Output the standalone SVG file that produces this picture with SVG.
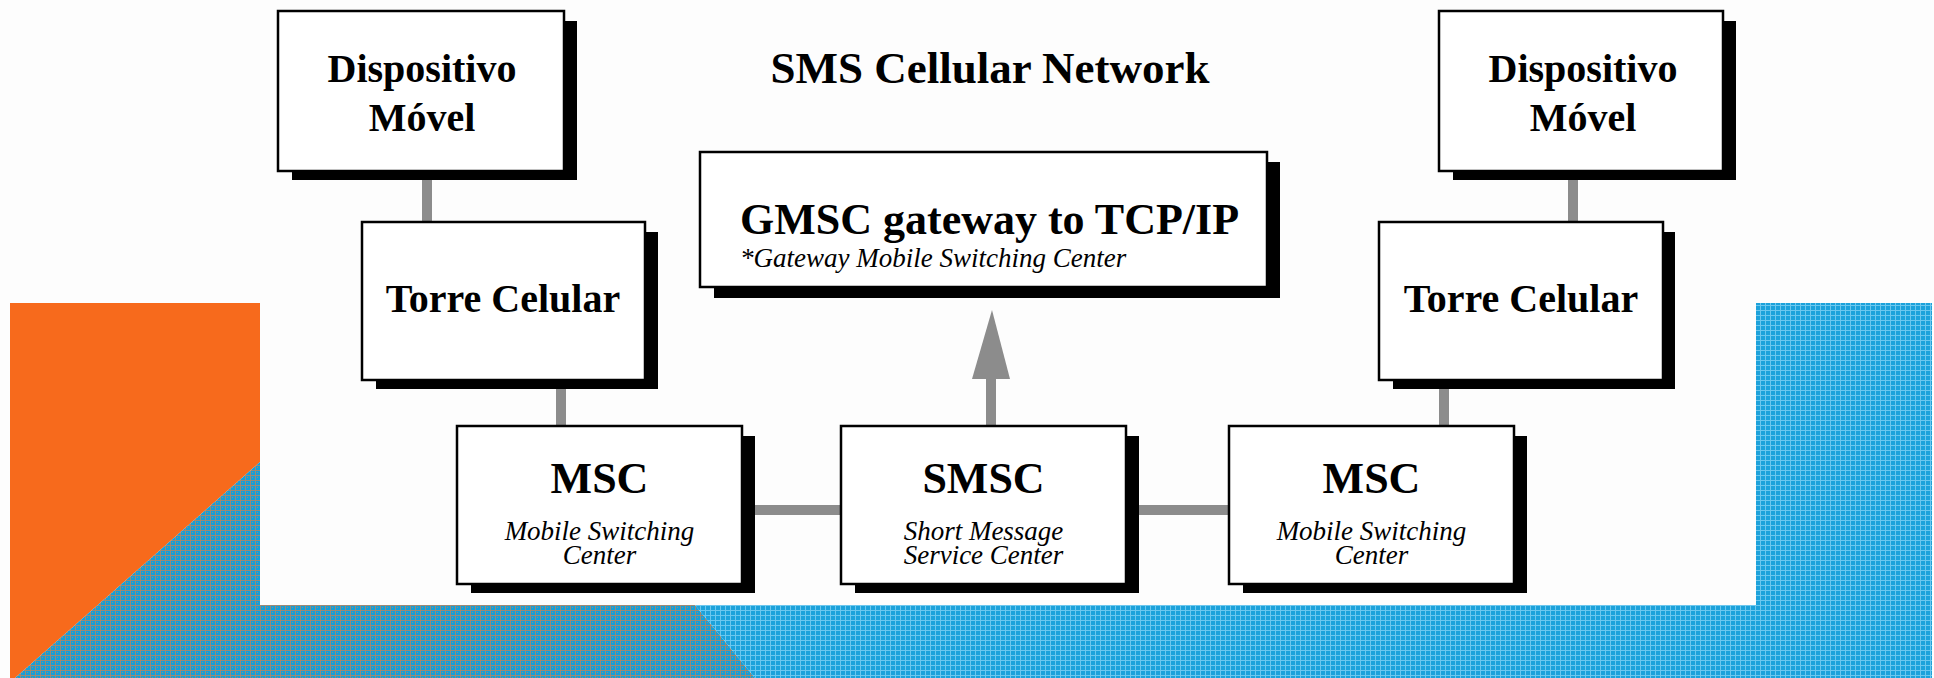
<svg xmlns="http://www.w3.org/2000/svg" width="1934" height="678" viewBox="0 0 1934 678">
  <style>
    .box { fill: #ffffff; stroke: #000000; stroke-width: 2.5; }
    .shadow { fill: #000000; }
    .link { stroke: #8c8c8c; stroke-width: 10; fill: none; }
    .head { fill: #8c8c8c; }
    .title { font-family: "Liberation Serif", "Times New Roman", serif; font-weight: bold; font-size: 44px; fill: #000; text-anchor: middle; }
    .name { font-family: "Liberation Serif", "Times New Roman", serif; font-weight: bold; font-size: 40px; fill: #000; text-anchor: middle; }
    .sub { font-family: "Liberation Serif", "Times New Roman", serif; font-style: italic; font-size: 27px; fill: #000; text-anchor: middle; }
  </style>
  <defs>
    <pattern id="meshLight" width="5" height="5" patternUnits="userSpaceOnUse">
      <rect width="5" height="5" fill="#1ca2db"/>
      <rect x="0" y="0" width="5" height="1" fill="#6cc7ee"/>
      <rect x="0" y="0" width="1" height="5" fill="#6cc7ee"/>
    </pattern>
    <pattern id="meshDark" width="5" height="5" patternUnits="userSpaceOnUse">
      <rect width="5" height="5" fill="#169fd8"/>
      <rect x="0" y="0" width="5" height="1" fill="#9a8a76"/>
      <rect x="0" y="0" width="1" height="5" fill="#9a8a76"/>
      <rect x="2" y="2" width="1" height="1" fill="#9a8a76"/>
    </pattern>
  </defs>

  <!-- page -->
  <rect x="0" y="0" width="1934" height="678" fill="#fdfdfd"/>

  <!-- decorative backdrop -->
  <g id="backdrop">
    <polygon points="10,303 260,303 260,462 15,678 10,678" fill="#f76a1c"/>
    <polygon points="260,462 260,605 695,605 755,678 15,678" fill="url(#meshDark)"/>
    <polygon points="695,605 1756,605 1756,303 1932,303 1932,678 755,678" fill="url(#meshLight)"/>
  </g>

  <!-- diagram panel -->
  <rect x="260" y="0" width="1496" height="605" fill="#fdfdfd"/>

  <text class="title" x="990" y="83" style="font-size:45px">SMS Cellular Network</text>

  <!-- connectors -->
  <g id="connectors">
    <line class="link" x1="427" y1="175" x2="427" y2="224"/>
    <line class="link" x1="561" y1="380" x2="561" y2="428"/>
    <line class="link" x1="742" y1="510" x2="842" y2="510"/>
    <line class="link" x1="1126" y1="510" x2="1230" y2="510"/>
    <line class="link" x1="1444" y1="380" x2="1444" y2="428"/>
    <line class="link" x1="1573" y1="175" x2="1573" y2="224"/>
    <line class="link" x1="991" y1="426" x2="991" y2="378"/>
    <polygon class="head" points="972,379 1010,379 992,310"/>
  </g>

  <!-- nodes -->
  <g id="device-left">
    <rect class="shadow" x="292" y="21" width="285" height="159"/>
    <rect class="box" x="278" y="11" width="286" height="160"/>
    <text class="name" x="422" y="82">Dispositivo<tspan x="422" dy="49">Móvel</tspan></text>
  </g>

  <g id="tower-left">
    <rect class="shadow" x="376" y="232" width="282" height="157"/>
    <rect class="box" x="362" y="222" width="283" height="158"/>
    <text class="name" x="503" y="312">Torre Celular</text>
  </g>

  <g id="msc-left">
    <rect class="shadow" x="471" y="436" width="284" height="157"/>
    <rect class="box" x="457" y="426" width="285" height="158"/>
    <text class="title" x="599.5" y="493">MSC</text>
    <text class="sub" x="599.5" y="540">Mobile Switching<tspan x="599.5" dy="24">Center</tspan></text>
  </g>

  <g id="smsc">
    <rect class="shadow" x="855" y="436" width="284" height="157"/>
    <rect class="box" x="841" y="426" width="285" height="158"/>
    <text class="title" x="983.5" y="493">SMSC</text>
    <text class="sub" x="983.5" y="540">Short Message<tspan x="983.5" dy="24">Service Center</tspan></text>
  </g>

  <g id="msc-right">
    <rect class="shadow" x="1243" y="436" width="284" height="157"/>
    <rect class="box" x="1229" y="426" width="285" height="158"/>
    <text class="title" x="1371.5" y="493">MSC</text>
    <text class="sub" x="1371.5" y="540">Mobile Switching<tspan x="1371.5" dy="24">Center</tspan></text>
  </g>

  <g id="tower-right">
    <rect class="shadow" x="1393" y="232" width="282" height="157"/>
    <rect class="box" x="1379" y="222" width="284" height="158"/>
    <text class="name" x="1521" y="312">Torre Celular</text>
  </g>

  <g id="device-right">
    <rect class="shadow" x="1453" y="21" width="283" height="159"/>
    <rect class="box" x="1439" y="11" width="284" height="160"/>
    <text class="name" x="1583" y="82">Dispositivo<tspan x="1583" dy="49">Móvel</tspan></text>
  </g>

  <g id="gmsc">
    <rect class="shadow" x="714" y="162" width="566" height="136"/>
    <rect class="box" x="700" y="152" width="567" height="135"/>
    <text class="title" x="740" y="234" style="text-anchor:start">GMSC gateway to TCP/IP</text>
    <text class="sub" x="740" y="267" style="text-anchor:start">*Gateway Mobile Switching Center</text>
  </g>
</svg>
